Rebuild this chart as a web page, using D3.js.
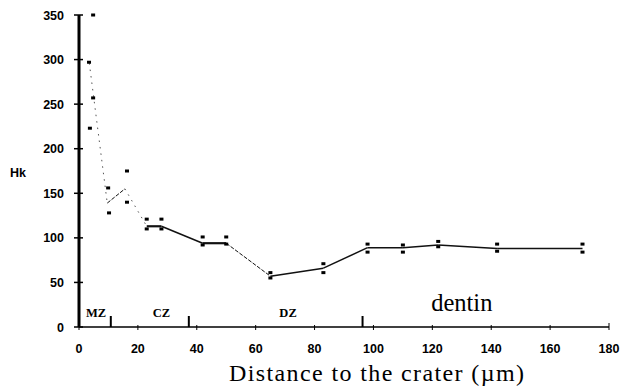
<!DOCTYPE html>
<html>
<head>
<meta charset="utf-8">
<script src="https://cdn.jsdelivr.net/npm/d3@7"></script>
<style>
  body { margin: 0; background: #fff; }
  svg { display: block; }
  .tick-label { font-family: "Liberation Sans", Arial, sans-serif; font-weight: bold; font-size: 12.5px; }
  .serif { font-family: "Liberation Serif", "Times New Roman", serif; }
</style>
</head>
<body>
<svg id="svg1" width="621" height="388"></svg>
<script>
// measured points (distance in um, Hk)
var pointX = [4.8, 3.4, 4.8, 3.7, 9.9, 10.2, 16.3, 16.3, 23, 23, 28, 28, 42, 42, 50, 50,
              65, 65, 83, 83, 98, 98, 110, 110, 122, 122, 142, 142, 171, 171];
var pointY = [350, 297, 257, 223, 156, 128, 175, 140, 121, 110, 121, 110, 101, 92, 101, 93,
              61, 55, 71, 61, 93, 84, 92, 84, 96, 90, 93, 85, 93, 84];

// mean line
var meanX = [3.5, 9.6, 15.6, 23, 28, 42, 50, 65, 83, 98, 110, 122, 142, 171];
var meanY = [296, 139, 155, 113, 113, 94, 94, 57, 66, 89, 89, 92, 88, 88];
var segStyle = ["dot", "thin", "dot", "thick", "mid", "thick", "thin", "mid", "mid", "mid", "mid", "mid", "mid"];

var xTicks = [0, 20, 40, 60, 80, 100, 120, 140, 160, 180];
var yTicks = [0, 50, 100, 150, 200, 250, 300, 350];

// zone borders and labels
var zoneBorders = [10.8, 37.3, 96.3];
var zoneNames = ["MZ", "CZ", "DZ"];
var zoneCenters = [5.8, 28, 71];

var svg = d3.select("svg#svg1");

var xScale = d3.scaleLinear().domain([0, 180]).range([79, 609]);
var yScale = d3.scaleLinear().domain([0, 350]).range([327, 15]);

/* y axis */
var yAxis = svg.append("g").attr("id", "y-axis");
yAxis.append("line")
  .attr("x1", xScale(0)).attr("x2", xScale(0))
  .attr("y1", yScale(0)).attr("y2", yScale(350))
  .attr("stroke", "#000").attr("stroke-width", 3);
yAxis.selectAll("line.tk").data(yTicks).enter()
  .append("line").attr("class", "tk")
  .attr("x1", xScale(0) - 5).attr("x2", xScale(0) + 4)
  .attr("y1", function(d) { return yScale(d); })
  .attr("y2", function(d) { return yScale(d); })
  .attr("stroke", "#000").attr("stroke-width", 1.5);
yAxis.selectAll("text").data(yTicks).enter()
  .append("text").attr("class", "tick-label")
  .attr("x", 64)
  .attr("y", function(d) { return yScale(d) + 4.5; })
  .attr("text-anchor", "end")
  .text(function(d) { return d; });

svg.append("text").attr("class", "tick-label")
  .attr("x", 10).attr("y", 177)
  .attr("font-size", 13.5)
  .text("Hk");

/* x axis */
var xAxis = svg.append("g").attr("id", "x-axis");
xAxis.append("line")
  .attr("x1", xScale(0)).attr("x2", xScale(180))
  .attr("y1", yScale(0)).attr("y2", yScale(0))
  .attr("stroke", "#000").attr("stroke-width", 1.5);
xAxis.selectAll("line.tk").data(xTicks).enter()
  .append("line").attr("class", "tk")
  .attr("x1", function(d) { return xScale(d); })
  .attr("x2", function(d) { return xScale(d); })
  .attr("y1", function(d) { return d == 180 ? yScale(0) - 4 : yScale(0) - 2; })
  .attr("y2", yScale(0) + 3)
  .attr("stroke", "#000").attr("stroke-width", 1);
xAxis.selectAll("text").data(xTicks).enter()
  .append("text").attr("class", "tick-label")
  .attr("x", function(d) { return xScale(d); })
  .attr("y", 353)
  .attr("text-anchor", "middle")
  .text(function(d) { return d; });

svg.append("text").attr("class", "serif")
  .attr("x", 229).attr("y", 381)
  .attr("font-size", 24)
  .attr("textLength", 295)
  .attr("lengthAdjust", "spacing")
  .text("Distance to the crater (\u00b5m)");

/* zones */
svg.selectAll("line.zone").data(zoneBorders).enter()
  .append("line").attr("class", "zone")
  .attr("x1", function(d) { return xScale(d); })
  .attr("x2", function(d) { return xScale(d); })
  .attr("y1", yScale(0) - 11).attr("y2", yScale(0))
  .attr("stroke", "#000").attr("stroke-width", 2);
svg.selectAll("text.zone").data(zoneNames).enter()
  .append("text").attr("class", "zone serif")
  .attr("x", function(d, i) { return xScale(zoneCenters[i]); })
  .attr("y", 317)
  .attr("text-anchor", "middle")
  .attr("font-size", 12.5).attr("font-weight", "bold")
  .text(function(d) { return d; });
svg.append("text").attr("class", "serif")
  .attr("x", xScale(130)).attr("y", 311)
  .attr("text-anchor", "middle")
  .attr("font-size", 24.5)
  .text("dentin");

/* mean line, segment by segment */
var segs = d3.range(meanX.length - 1).map(function(i) {
  return { x1: meanX[i], y1: meanY[i], x2: meanX[i + 1], y2: meanY[i + 1], s: segStyle[i] };
});
svg.append("g").attr("id", "plot").selectAll("line").data(segs).enter()
  .append("line")
  .attr("x1", function(d) { return xScale(d.x1); })
  .attr("y1", function(d) { return yScale(d.y1); })
  .attr("x2", function(d) { return xScale(d.x2); })
  .attr("y2", function(d) { return yScale(d.y2); })
  .attr("stroke", function(d) { return d.s == "dot" ? "#555" : "#111"; })
  .attr("stroke-width", function(d) {
    if (d.s == "dot") return 1;
    if (d.s == "thin") return 1;
    if (d.s == "thick") return 2.2;
    return 1.5;
  })
  .attr("stroke-dasharray", function(d) {
    if (d.s == "dot") return "1.5,5";
    if (d.s == "thin") return "4,1.5";
    return null;
  });

/* points */
svg.append("g").attr("id", "points").selectAll("rect").data(pointX).enter()
  .append("rect")
  .attr("x", function(d) { return xScale(d) - 2; })
  .attr("y", function(d, i) { return yScale(pointY[i]) - 1.5; })
  .attr("width", 4).attr("height", 3)
  .attr("fill", "#000");
</script>
</body>
</html>
